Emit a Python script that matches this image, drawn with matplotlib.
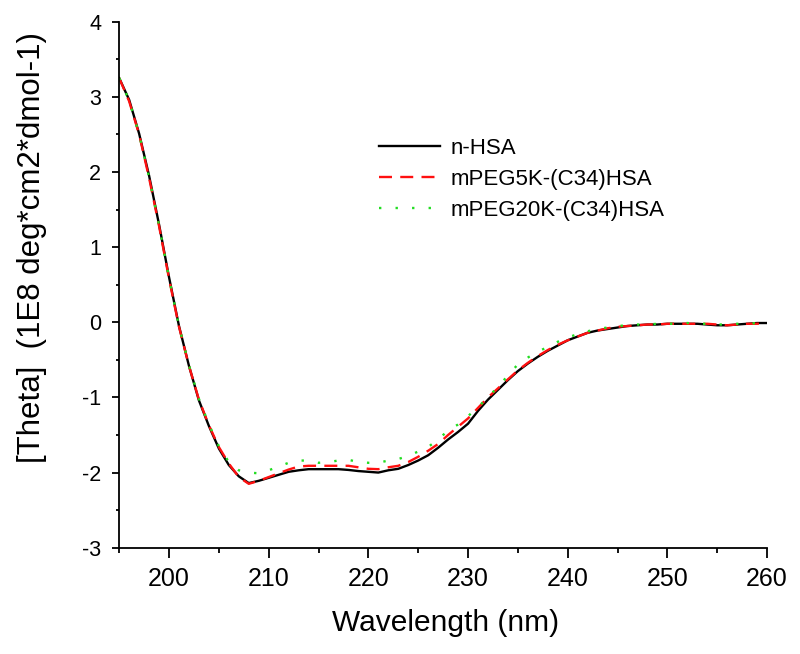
import matplotlib
matplotlib.use("Agg")
import matplotlib.pyplot as plt
from matplotlib.ticker import MultipleLocator

plt.rcParams['font.family'] = ['Liberation Sans', 'DejaVu Sans']
plt.rcParams['axes.unicode_minus'] = False

wavelength = list(range(195, 261))

n_hsa = [3.25, 2.96, 2.51, 1.95, 1.30, 0.60, -0.05, -0.58, -1.04, -1.38,
         -1.68, -1.90, -2.05, -2.14, -2.11, -2.07, -2.03, -1.99, -1.97, -1.955,
         -1.955, -1.955, -1.955, -1.965, -1.98, -1.99, -2.00, -1.97, -1.95, -1.90,
         -1.84, -1.77, -1.67, -1.56, -1.46, -1.35, -1.18, -1.03, -0.90, -0.77,
         -0.65, -0.55, -0.46, -0.38, -0.31, -0.24, -0.19, -0.14, -0.11, -0.09,
         -0.07, -0.05, -0.04, -0.03, -0.03, -0.02, -0.02, -0.02, -0.02, -0.03,
         -0.04, -0.04, -0.03, -0.02, -0.01, -0.01]

mpeg5k = [3.25, 2.94, 2.50, 1.92, 1.28, 0.58, -0.06, -0.58, -1.03, -1.37,
          -1.66, -1.88, -2.06, -2.15, -2.11, -2.06, -2.01, -1.96, -1.92, -1.91,
          -1.91, -1.91, -1.91, -1.91, -1.93, -1.95, -1.955, -1.93, -1.91, -1.86,
          -1.79, -1.71, -1.62, -1.50, -1.39, -1.28, -1.14, -1.00, -0.88, -0.76,
          -0.64, -0.54, -0.45, -0.37, -0.30, -0.24, -0.19, -0.14, -0.11, -0.08,
          -0.06, -0.05, -0.04, -0.03, -0.03, -0.02, -0.02, -0.02, -0.02, -0.02,
          -0.03, -0.04, -0.03, -0.02, -0.02, -0.01]

mpeg20k = [3.25, 2.95, 2.50, 1.93, 1.29, 0.59, -0.05, -0.57, -1.02, -1.36,
           -1.65, -1.86, -1.97, -2.00, -2.01, -1.97, -1.92, -1.87, -1.84, -1.84,
           -1.87, -1.86, -1.84, -1.83, -1.86, -1.87, -1.87, -1.84, -1.82, -1.78,
           -1.72, -1.66, -1.56, -1.44, -1.36, -1.25, -1.13, -1.00, -0.86, -0.71,
           -0.56, -0.47, -0.39, -0.33, -0.26, -0.20, -0.16, -0.12, -0.09, -0.07,
           -0.05, -0.04, -0.03, -0.03, -0.02, -0.02, -0.02, -0.01, -0.02, -0.02,
           -0.03, -0.03, -0.02, -0.02, -0.01, 0.0]

labels = ['n-HSA', 'mPEG5K-(C34)HSA', 'mPEG20K-(C34)HSA']

fig = plt.figure(figsize=(8, 6.54), dpi=100)
ax = fig.add_axes([119.2 / 800, 1 - 547.7 / 654, 647.8 / 800, 526 / 654])

ax.plot(wavelength, n_hsa, color='black', lw=1.7, label=labels[0])
ax.plot(wavelength, mpeg5k, color='#ff1010', lw=1.7, dashes=(5.5, 3.5), label=labels[1])
ax.plot(wavelength, mpeg20k, color='#22dd22', lw=1.7, dashes=(1, 6), label=labels[2])

ax.set_xlim(195, 260)
ax.set_ylim(-3, 4)
ax.xaxis.set_major_locator(MultipleLocator(10))
ax.xaxis.set_minor_locator(MultipleLocator(5))
ax.yaxis.set_major_locator(MultipleLocator(1))
ax.yaxis.set_minor_locator(MultipleLocator(0.5))
ax.spines['top'].set_visible(False)
ax.spines['right'].set_visible(False)
for s in ('left', 'bottom'):
    ax.spines[s].set_linewidth(1.3)

ax.tick_params(axis='x', which='major', direction='out', length=7.2, width=1.3, labelsize=18, pad=7)
ax.tick_params(axis='x', which='minor', direction='out', length=3.6, width=1.3)
ax.tick_params(axis='y', which='major', direction='out', length=5, width=1.3, labelsize=15.5, pad=8)
ax.tick_params(axis='y', which='minor', direction='out', length=2.5, width=1.3)

ax.set_xlabel('Wavelength (nm)', fontsize=21.5)
ax.xaxis.set_label_coords(0.5045, -0.1165)
ax.set_ylabel('[Theta]  (1E8 deg*cm2*dmol-1)', fontsize=22.5)
ax.yaxis.set_label_coords(-0.1115, 0.570)

leg = ax.legend(loc='upper left', bbox_to_anchor=(379 / 800, 1 - 138 / 654),
                bbox_transform=fig.transFigure, frameon=False, fontsize=16,
                handlelength=2.75, handletextpad=0.45, labelspacing=0.45,
                borderpad=0, borderaxespad=0)

fig.savefig('out.png', dpi=100)
